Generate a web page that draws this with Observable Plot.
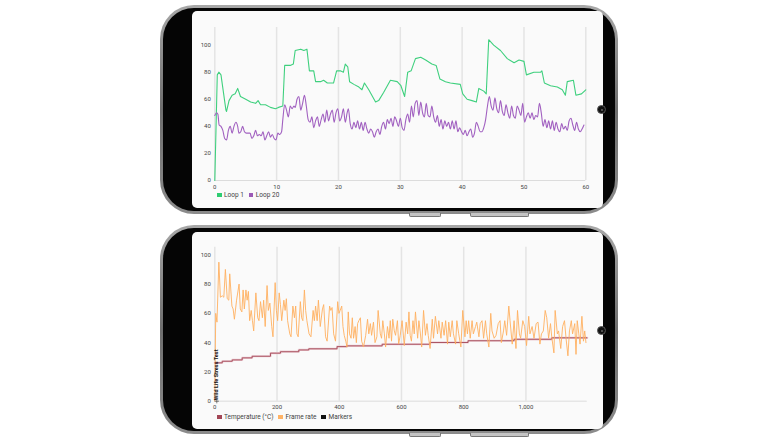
<!DOCTYPE html>
<html>
<head>
<meta charset="utf-8">
<script src="https://cdn.jsdelivr.net/npm/d3@7"></script>
<script src="https://cdn.jsdelivr.net/npm/@observablehq/plot@0.6"></script>
<style>
  html, body { margin:0; padding:0; background:#fff; }
  body { width:782px; height:440px; position:relative; overflow:hidden; font-family: Roboto, "Noto Sans", sans-serif; }
  .phone { position:absolute; left:160px; width:458px; height:209px; border-radius:34px;
           background:linear-gradient(180deg,#a8a8a8 0%,#6e6e6e 50%,#8c8c8c 100%); }
  .body { position:absolute; left:3px; top:3px; right:3px; bottom:3px; border-radius:31px; background:#050505; }
  .screen { position:absolute; left:29px; top:3px; width:411px; height:197px; border-radius:5px; background:#fafafa; overflow:hidden; }
  .cam { position:absolute; left:435px; width:9px; height:9px; border-radius:50%; background:#111; border:1px solid #555; box-sizing:border-box; }
  .cam::after { content:""; position:absolute; left:2.5px; top:2.5px; width:2px; height:2px; border-radius:50%; background:#666; }
  .btn { position:absolute; height:3px; background:#c4c4c4; border:1px solid #777; border-top:none; border-radius:0 0 2px 2px; }
  .chart { position:absolute; left:0; top:0; }
  .legend { position:absolute; left:25px; display:flex; gap:5px; font-size:6.5px; color:#444; align-items:center; }
  .legend span.sw { display:inline-block; width:4.5px; height:4.5px; margin-right:2.5px; vertical-align:middle; position:relative; top:-0.5px; }
</style>
</head>
<body>
<div class="phone" style="top:5px;"><div class="body"></div></div>
<div class="phone" style="top:225px;"><div class="body"></div></div>
<div class="btn" style="left:409px; top:213px; width:30px;"></div>
<div class="btn" style="left:470px; top:213px; width:57px;"></div>
<div class="btn" style="left:409px; top:433px; width:30px;"></div>
<div class="btn" style="left:470px; top:433px; width:57px;"></div>
<div id="screen1" class="screen" style="position:absolute; left:192px; top:11px;"></div>
<div id="screen2" class="screen" style="position:absolute; left:192px; top:232px;"></div>
<div class="cam" style="left:597px; top:105px;"></div>
<div class="cam" style="left:597px; top:326px;"></div>
<script>
// ---------- Chart 1 data ----------
const xTicks1 = [0, 10, 20, 30, 40, 50, 60];
const yTicks = [0, 20, 40, 60, 80, 100];
const series1Names = ["Loop 1", "Loop 20"];
const series1Colors = ["#2ecc71", "#9b59b6"];

const loop1X = [0,0.4,0.65,1.0,1.8,1.9,2.3,2.8,3.3,3.7,4.15,5,5.8,6.6,7,7.4,8.2,9,9.8,10.3,11,11.3,12.2,12.7,13,13.9,14.4,14.9,15.3,16,16.3,17.1,17.6,18.2,19.2,19.7,20.3,20.8,21.1,21.5,21.8,22.5,23.3,23.8,24.2,24.9,26,26.5,27.3,28.4,29.5,30.1,30.7,31.2,31.75,32.45,33.3,34.1,35.1,35.8,36.4,37.3,38.1,39.7,40.1,40.8,41.6,42.3,42.7,43.5,43.9,44.3,45.1,46.2,47.3,48.4,49.2,50,50.4,51.6,52.7,52.9,53.3,54.3,55.4,56.2,56.7,57.0,58.0,58.4,59.3,60];
const loop1Y = [0,78,80,78,52,51,59,63,64,68,62,60,58,57,59,56,56,54,53,54,55,85,85,86,96,97,96,97,81,81,73,73,74,72,72,81,81,80,86,84,73,71,69,67,72,67,58,59,65,74,73,70,62,80,81,90,91,89,86,85,75,73,72,71,64,60,59,58,68,66,64,104,100,96,90,87,89,88,78,80,80,81,72,70,69,67,63,73,74,63,64,67];

const loop20X = [0,0.3,0.5,0.7,1.0,1.3,1.6,1.9,2.2,2.5,2.8,3.1,3.4,3.7,3.9,4.2,4.5,4.8,5.1,5.4,5.7,6.0,6.3,6.6,6.9,7.2,7.5,7.8,8.1,8.4,8.7,9.0,9.3,9.6,9.9,10.2,10.5,10.8,11.0,11.3,11.6,11.9,12.2,12.5,12.8,13.0,13.3,13.6,13.9,14.2,14.5,14.8,15.1,15.4,15.7,16.0,16.3,16.6,16.9,17.2,17.5,17.8,18.1,18.4,18.7,19.0,19.3,19.6,19.9,20.2,20.5,20.8,21.1,21.4,21.6,21.9,22.2,22.5,22.8,23.1,23.4,23.7,24.0,24.3,24.6,24.9,25.2,25.5,25.8,26.1,26.4,26.7,27.0,27.3,27.6,27.9,28.2,28.5,28.8,29.1,29.4,29.7,30.0,30.3,30.6,30.9,31.2,31.5,31.8,32.1,32.4,32.7,33.0,33.3,33.6,33.9,34.2,34.5,34.8,35.1,35.4,35.7,36.0,36.3,36.6,36.9,37.2,37.5,37.8,38.1,38.4,38.7,39.0,39.3,39.6,39.9,40.2,40.5,40.8,41.1,41.4,41.7,42.0,42.3,42.6,42.9,43.2,43.5,43.8,44.1,44.4,44.7,45.0,45.3,45.6,45.9,46.2,46.5,46.8,47.1,47.4,47.7,48.0,48.3,48.6,48.9,49.2,49.5,49.8,50.1,50.4,50.7,51.0,51.3,51.6,51.9,52.2,52.5,52.8,53.1,53.4,53.7,54.0,54.3,54.6,54.9,55.2,55.5,55.8,56.1,56.4,56.7,57.0,57.3,57.6,57.9,58.2,58.5,58.8,59.1,59.4,59.7];
const loop20Y = [48,50,49,41,40,37,31,30,37,40,35,40,43,40,35,36,40,36,35,35,35,31,33,37,33,34,33,36,30,33,36,32,34,31,30,35,34,36,45,56,52,47,55,53,55,54,60,62,52,57,63,55,45,43,47,39,44,47,40,45,49,43,52,44,49,52,43,50,53,44,47,53,43,50,53,42,38,43,39,44,38,43,37,43,38,35,38,36,32,36,38,34,40,43,38,45,42,46,40,47,44,40,46,39,37,45,49,43,55,47,57,59,48,58,50,47,57,48,47,55,47,43,48,40,45,38,44,40,43,38,44,38,44,36,39,36,34,37,33,36,38,32,35,43,40,36,36,39,45,55,62,55,52,61,53,50,59,51,48,56,50,46,55,48,46,55,52,48,57,43,47,50,46,50,45,48,47,57,50,40,45,39,44,38,44,37,43,38,36,42,38,40,37,44,46,41,37,43,38,36,38,41];

// ---------- Chart 2 data ----------
const xTicks2 = [0, 200, 400, 600, 800, 1000];
const series2Names = ["Temperature (°C)", "Frame rate", "Markers"];
const series2Colors = ["#a34656", "#ffb366", "#111111"];
const markerX = [0];
const markerLabel = ["Wild Life Stress Test"];

const tempX = [0,24,56,88,120,179,211,270,302,393,425,538,692,814,962,1083,1197];
const tempY = [26.2,27.3,28.2,29.6,30.7,32.8,33.8,35,35.8,37.3,37.8,38.9,40.1,41.3,42.3,43.3,43.3];

const fpsX = [0,3,7,13,18,24,29,34,40,45,48,55,59,63,70,78,82,87,91,95,100,104,108,112,117,121,125,132,138,142,147,153,157,162,168,172,177,183,187,194,198,202,207,211,215,222,226,230,234,241,245,251,256,260,264,268,275,279,283,288,292,296,303,309,316,320,324,329,333,339,346,350,356,361,369,373,377,382,388,395,399,403,408,412,416,421,425,429,433,438,442,446,451,455,459,463,468,472,478,485,491,495,500,504,510,515,521,525,532,536,540,545,549,555,560,564,568,572,577,581,587,591,596,602,609,615,620,624,628,632,637,641,645,652,656,660,665,671,677,682,686,692,699,703,709,716,720,727,731,737,742,748,752,757,763,767,774,778,784,791,797,804,808,812,816,821,827,831,838,842,849,853,859,864,870,874,881,887,891,898,904,911,917,921,928,932,938,945,949,956,962,968,973,979,983,990,996,1002,1009,1013,1020,1026,1033,1039,1045,1050,1056,1062,1067,1073,1079,1083,1090,1094,1101,1105,1112,1118,1124,1129,1135,1140,1146,1150,1157,1161,1165,1170,1174,1180,1185,1189,1193];
const fpsY = [0,60,54,95,71,72,71,90,70,69,87,65,63,56,69,80,63,61,76,63,76,69,75,55,62,55,48,74,57,55,68,57,69,51,79,62,67,51,44,81,62,55,74,66,55,69,62,70,55,46,44,65,57,65,46,44,68,57,55,76,62,55,46,44,62,55,65,55,69,51,63,66,44,41,65,62,64,46,41,68,60,62,65,51,45,41,37,61,46,43,57,43,51,40,53,55,57,41,37,45,56,46,53,45,54,40,44,62,46,43,55,46,37,51,43,55,41,56,48,45,55,39,45,55,38,54,46,61,45,41,55,46,61,43,55,48,37,62,45,53,45,36,56,43,58,46,55,43,54,45,55,39,54,44,55,46,39,55,46,37,62,44,55,46,55,43,55,46,51,54,44,53,55,43,55,46,37,60,48,43,45,53,55,40,48,55,45,65,55,39,55,36,62,46,43,55,51,38,58,46,51,43,53,54,39,46,48,62,57,43,53,44,33,62,46,48,36,51,55,43,31,48,55,46,53,32,55,46,39,58,41,48,40];

// ---------- build ----------
const loop1 = loop1X.map((t, i) => ({t, v: loop1Y[i]}));
const loop20 = loop20X.map((t, i) => ({t, v: loop20Y[i]}));
const temp = tempX.map((t, i) => ({t, v: tempY[i]}));
const fps = fpsX.map((t, i) => ({t, v: fpsY[i]}));
const markers = markerX.map((t, i) => ({t, label: markerLabel[i]}));

const baseStyle = {background: "transparent", fontFamily: "Roboto, sans-serif", fontSize: "6px", color: "#444", overflow: "visible"};

const chart1 = Plot.plot({
  width: 411, height: 182,
  marginLeft: 22.3, marginRight: 17.7, marginTop: 16, marginBottom: 13,
  style: baseStyle,
  x: {domain: [0, 60], ticks: xTicks1, tickSize: 0, tickPadding: 4, label: null},
  y: {domain: [0, 113], ticks: yTicks, tickSize: 0, tickPadding: 4, label: null},
  marks: [
    Plot.ruleX(xTicks1, {stroke: "#e4e4e4", strokeWidth: 1.5}),
    Plot.ruleY([0], {stroke: "#dcdcdc", strokeWidth: 1}),
    Plot.line(loop1, {x: "t", y: "v", stroke: "#3fd07e", strokeWidth: 1.1}),
    Plot.line(loop20, {x: "t", y: "v", stroke: "#a160c0", strokeWidth: 1.1, curve: "monotone-x"})
  ]
});
chart1.classList.add("chart");
document.getElementById("screen1").appendChild(chart1);

const chart2 = Plot.plot({
  width: 411, height: 182,
  marginLeft: 22.3, marginRight: 16.3, marginTop: 14.7, marginBottom: 13.3,
  style: baseStyle,
  x: {domain: [0, 1197], ticks: xTicks2, tickSize: 0, tickPadding: 4, label: null, tickFormat: d3.format(",")},
  y: {domain: [0, 105.2], ticks: yTicks, tickSize: 0, tickPadding: 4, label: null},
  marks: [
    Plot.ruleX(xTicks2, {stroke: "#e4e4e4", strokeWidth: 1.5}),
    Plot.ruleY([0], {stroke: "#dcdcdc", strokeWidth: 1}),
    Plot.line(temp, {x: "t", y: "v", stroke: "#ecccd2", strokeWidth: 2.2, curve: "step-after"}),
    Plot.line(temp, {x: "t", y: "v", stroke: "#a34656", strokeWidth: 0.9, curve: "step-after"}),
    Plot.line(fps, {x: "t", y: "v", stroke: "#ffb060", strokeWidth: 1, strokeOpacity: 0.9}),
    Plot.text(markers, {x: "t", y: 0, text: "label", rotate: -90, textAnchor: "start", dx: 3.5, dy: -1, fontWeight: "bold", fontSize: 5.5, fill: "#111", lineAnchor: "bottom"}),
    Plot.dot(markers, {x: "t", y: 0, symbol: "plus", r: 1.5, stroke: "#333", strokeWidth: 0.6, dx: 2})
  ]
});
chart2.classList.add("chart");
document.getElementById("screen2").appendChild(chart2);

function legend(names, colors, top, screenId) {
  const div = document.createElement("div");
  div.className = "legend";
  div.style.top = top + "px";
  names.forEach((n, i) => {
    const item = document.createElement("span");
    const sw = document.createElement("span");
    sw.className = "sw";
    sw.style.background = colors[i];
    item.appendChild(sw);
    item.appendChild(document.createTextNode(n));
    div.appendChild(item);
  });
  document.getElementById(screenId).appendChild(div);
}
legend(series1Names, series1Colors, 180, "screen1");
legend(series2Names, series2Colors, 181, "screen2");
</script>
</body>
</html>
